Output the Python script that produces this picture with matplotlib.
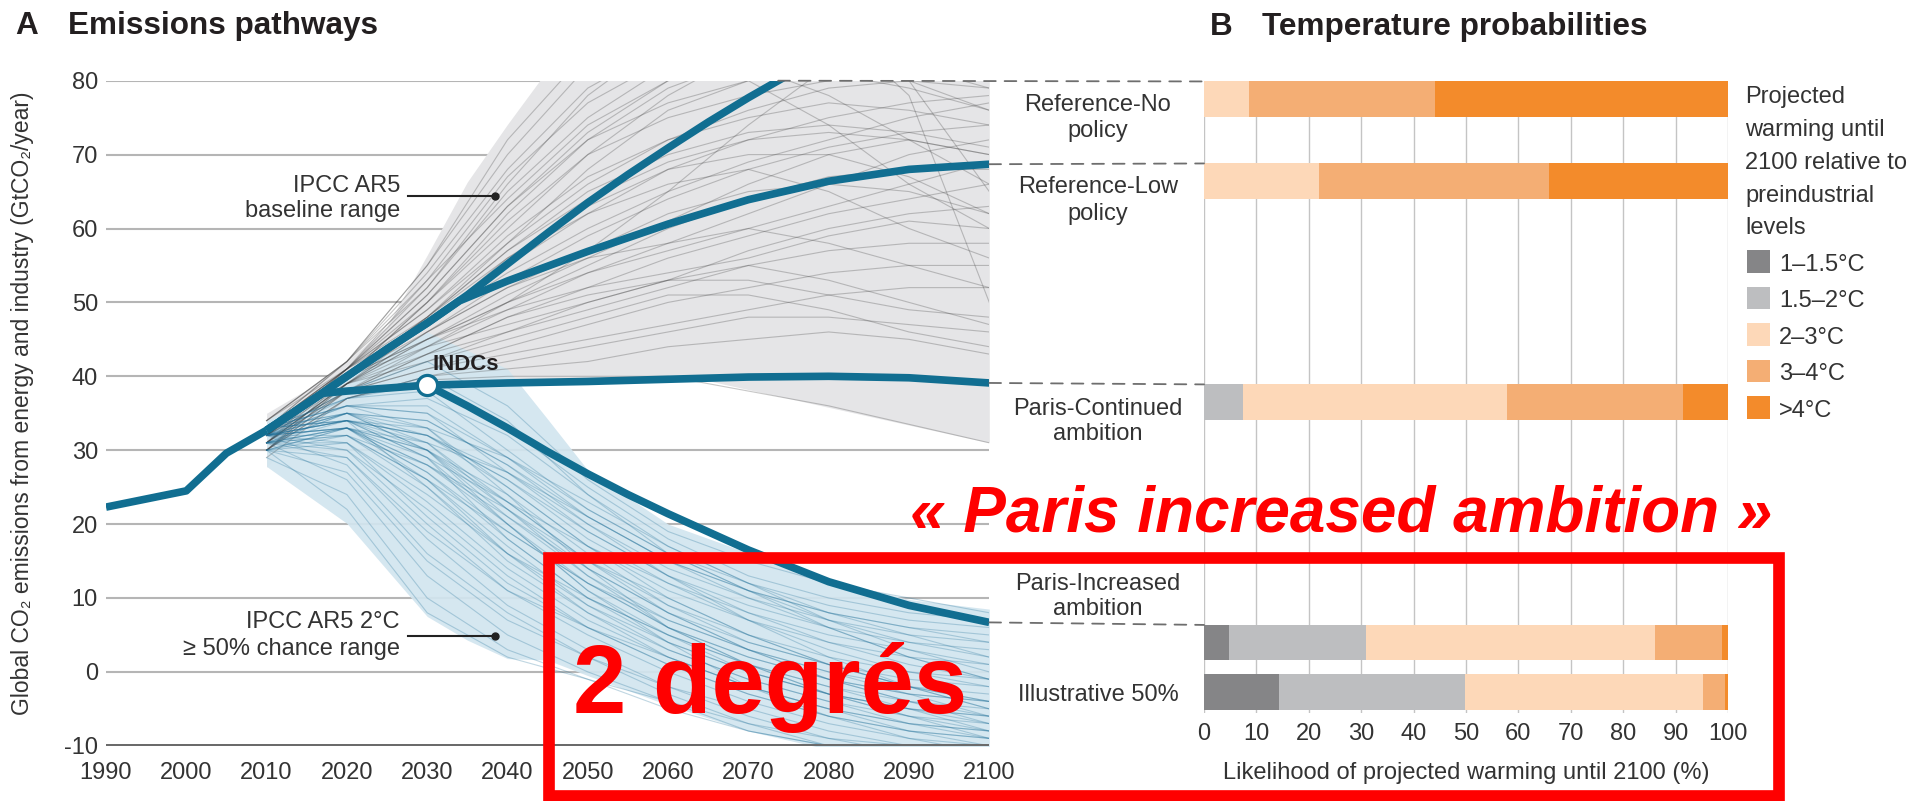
import numpy as np
import matplotlib.pyplot as plt
from matplotlib.patches import Rectangle, ConnectionPatch

plt.rcParams['font.family'] = ['Liberation Sans', 'DejaVu Sans']
plt.rcParams['axes.unicode_minus'] = False

# ---------------- data: emissions pathways (GtCO2/year) ----------------
hist_years = [1990, 1995, 2000, 2005, 2010]
hist_emis = [22.3, 23.4, 24.5, 29.6, 32.7]

ref_no_years = [2010, 2015, 2020, 2025, 2030, 2035, 2040, 2045, 2050, 2055, 2060, 2065, 2070, 2075]
ref_no_emis = [32.7, 36.3, 40.0, 43.7, 47.2, 51.0, 55.2, 59.4, 63.5, 67.3, 70.9, 74.4, 77.7, 80.8]

ref_low_years = [2010, 2015, 2020, 2025, 2030, 2034, 2040, 2050, 2060, 2070, 2080, 2090, 2100]
ref_low_emis = [32.7, 36.3, 40.0, 43.7, 47.2, 50.2, 52.9, 56.9, 60.6, 63.9, 66.4, 68.0, 68.7]

indc_years = [2010, 2015, 2017, 2020, 2025, 2030, 2040, 2050, 2060, 2070, 2080, 2090, 2100]
indc_emis = [32.7, 36.3, 37.7, 38.0, 38.4, 38.8, 39.1, 39.3, 39.6, 39.9, 40.0, 39.8, 39.1]

paris_inc_years = [2030, 2035, 2040, 2045, 2050, 2055, 2060, 2070, 2080, 2090, 2100]
paris_inc_emis = [38.8, 36.0, 33.0, 29.8, 26.8, 24.0, 21.4, 16.5, 12.2, 9.0, 6.7]

# IPCC AR5 baseline range envelope
gray_years = [2010, 2015, 2020, 2025, 2030, 2035, 2040, 2044, 2050, 2060, 2065, 2070, 2080, 2090, 2100]
gray_lower = [27.7, 33.0, 36.0, 37.5, 38.5, 38.8, 39.0, 39.1, 39.3, 39.6, 39.4, 38.2, 35.8, 33.4, 31.0]
gray_upper = [35.0, 38.2, 42.0, 46.8, 56.4, 66.3, 74.1, 80.0, 86.0, 86.0, 86.0, 86.0, 86.0, 86.0, 86.0]

# IPCC AR5 2°C (>= 50% chance) envelope
blue_years = [2010, 2020, 2030, 2035, 2040, 2045, 2050, 2060, 2070, 2080, 2090, 2100]
blue_lower = [27.8, 20.1, 7.5, 4.3, 1.8, 1.6, -0.5, -4.5, -8.0, -10.5, -11.0, -11.0]
blue_upper = [34.0, 40.0, 46.0, 43.5, 41.0, 34.2, 27.3, 20.0, 16.1, 12.5, 9.8, 8.5]

# individual scenario runs
run_years = [2010, 2020, 2030, 2040, 2050, 2060, 2070, 2080, 2090, 2100]
baseline_runs = [
    [33, 42, 55, 70, 82, 90, 95, 98, 100, 100],
    [32, 41, 52, 66, 78, 86, 90, 92, 93, 94],
    [31, 40, 50, 62, 72, 79, 83, 86, 84, 80],
    [33, 41, 49, 58, 66, 72, 76, 79, 80, 79],
    [32, 40, 47, 55, 62, 68, 72, 75, 77, 78],
    [30, 39, 46, 53, 59, 64, 68, 71, 73, 74],
    [33, 40, 45, 51, 56, 61, 66, 70, 72, 70],
    [31, 39, 44, 49, 54, 58, 62, 66, 70, 72],
    [32, 38, 43, 48, 52, 56, 59, 62, 64, 66],
    [30, 38, 42, 46, 50, 53, 57, 60, 62, 63],
    [33, 39, 43, 46, 49, 52, 55, 57, 58, 58],
    [31, 38, 41, 44, 47, 50, 52, 54, 55, 55],
    [32, 38, 41, 43, 45, 47, 49, 51, 52, 52],
    [29, 37, 40, 42, 44, 46, 48, 48, 47, 46],
    [30, 37, 40, 41, 42, 44, 45, 46, 45, 43],
    [34, 42, 53, 64, 74, 80, 82, 78, 72, 66],
    [33, 41, 51, 63, 73, 80, 86, 90, 80, 65],
    [32, 40, 48, 58, 68, 76, 80, 74, 66, 60],
    [31, 39, 47, 56, 63, 68, 70, 70, 67, 62],
    [33, 41, 50, 60, 70, 78, 84, 88, 78, 50],
    [32, 40, 46, 52, 56, 58, 60, 58, 55, 52],
    [30, 38, 43, 48, 51, 53, 53, 51, 49, 48],
    [34, 42, 55, 72, 84, 90, 92, 88, 80, 76],
    [31, 39, 45, 50, 55, 60, 64, 67, 68, 68],
    [33, 40, 48, 57, 65, 70, 73, 74, 73, 71],
    [30, 37, 39.5, 40, 40, 40, 38, 36, 33.5, 31],
    [33, 42, 54, 68, 79, 85, 88, 90, 91, 92],
    [32, 41, 53, 67, 77, 83, 86, 87, 86, 84],
    [34, 42, 52, 65, 75, 82, 85, 84, 82, 79],
    [31, 41, 51, 63, 72, 77, 80, 81, 79, 76],
    [33, 40, 50, 61, 70, 75, 78, 80, 81, 82],
    [32, 41, 49, 59, 67, 72, 75, 77, 76, 74],
    [30, 40, 48, 57, 64, 69, 72, 73, 72, 70],
    [33, 41, 47, 54, 60, 65, 69, 72, 75, 77],
    [31, 39, 46, 52, 57, 62, 65, 66, 65, 62],
    [32, 40, 45, 50, 54, 57, 60, 63, 66, 69],
    [34, 41, 48, 56, 62, 66, 68, 65, 60, 56],
    [31, 38, 44, 50, 57, 65, 74, 82, 88, 90],
    [30, 39, 45, 49, 52, 54, 56, 59, 61, 60],
    [33, 40, 44, 47, 50, 53, 55, 53, 50, 47],
    [32, 39, 42, 45, 48, 51, 51, 49, 46, 44],
]
two_deg_runs = [
    [32, 38, 42, 36, 26, 19, 15, 12, 10, 8],
    [33, 37, 38, 30, 22, 16, 12, 9, 7, 6],
    [32, 36, 35, 27, 19, 13, 9, 6, 4, 3],
    [31, 35, 33, 25, 17, 11, 7, 4, 2, 1],
    [32, 34, 31, 23, 15, 9, 5, 2, 0, -1],
    [33, 35, 30, 21, 13, 7, 3, 0, -2, -3],
    [31, 33, 28, 20, 12, 6, 2, -1, -3, -4],
    [32, 34, 29, 18, 10, 4, 0, -3, -5, -6],
    [30, 32, 26, 17, 9, 3, -1, -4, -6, -7],
    [32, 33, 27, 19, 12, 7, 3, 0, -3, -6],
    [33, 34, 25, 15, 8, 3, -1, -4, -7, -9],
    [31, 31, 23, 14, 7, 2, -2, -5, -8, -10],
    [32, 30, 20, 11, 5, 0, -4, -7, -9, -11],
    [30, 29, 18, 9, 3, -2, -6, -9, -11, -12],
    [32, 28, 16, 8, 2, -3, -7, -10, -11, -11],
    [31, 26, 13, 5, 0, -4, -8, -10, -11, -12],
    [29, 24, 10, 3, -1, -5, -8, -10, -11, -11],
    [30, 22, 8, 2, -1, -4, -7, -9, -10, -10],
    [33, 36, 37, 32, 24, 17, 12, 8, 5, 2],
    [32, 35, 34, 28, 20, 14, 10, 7, 5, 4],
    [31, 34, 32, 26, 18, 12, 7, 3, 0, -2],
    [32, 33, 30, 24, 16, 9, 4, 1, -1, -2],
    [33, 36, 33, 24, 14, 6, 1, -3, -6, -8],
    [31, 32, 28, 22, 15, 10, 5, 1, -2, -4],
    [32, 35, 30, 20, 11, 4, -2, -6, -8, -9],
    [30, 33, 29, 23, 17, 12, 8, 5, 3, 1],
    [32, 34, 32, 27, 21, 15, 10, 6, 2, -1],
    [33, 37, 40, 34, 24, 16, 11, 7, 4, 2],
    [31, 30, 22, 13, 6, 1, -3, -6, -8, -9],
    [32, 33, 26, 16, 8, 2, -2, -5, -7, -8],
    [32, 37, 39, 33, 25, 18, 13, 10, 8, 7],
    [33, 36, 36, 29, 21, 15, 11, 8, 6, 5],
    [31, 35, 34, 28, 21, 15, 11, 8, 6, 4],
    [32, 34, 32, 26, 19, 13, 8, 4, 1, -1],
    [30, 33, 30, 22, 14, 8, 4, 1, -2, -4],
    [32, 35, 31, 22, 13, 6, 2, -1, -4, -6],
    [33, 34, 29, 20, 11, 5, 0, -3, -5, -7],
    [31, 33, 27, 18, 10, 5, 1, -2, -5, -8],
    [32, 32, 25, 16, 9, 4, 0, -3, -5, -6],
    [30, 31, 24, 16, 10, 5, 1, -2, -4, -5],
    [32, 33, 28, 21, 14, 8, 3, -1, -4, -7],
    [31, 32, 26, 19, 12, 6, 1, -3, -6, -9],
    [33, 35, 32, 25, 17, 10, 5, 1, -2, -5],
    [32, 31, 21, 12, 6, 1, -3, -6, -9, -10],
    [31, 29, 19, 11, 6, 2, -2, -5, -7, -8],
    [30, 27, 15, 7, 2, -2, -5, -8, -10, -11],
    [32, 36, 35, 29, 22, 16, 11, 6, 2, -1],
    [33, 34, 30, 23, 15, 8, 3, -1, -3, -4],
    [31, 33, 31, 27, 20, 13, 7, 2, -2, -5],
    [32, 34, 33, 29, 23, 17, 12, 7, 3, 0],
]

# ---------------- data: temperature probabilities (%) ----------------
scenario_names = ['Reference-No\npolicy', 'Reference-Low\npolicy', 'Paris-Continued\nambition',
                  'Paris-Increased\nambition', 'Illustrative 50%']
warming_bins = ['1–1.5°C', '1.5–2°C', '2–3°C', '3–4°C', '>4°C']
warming_shares = [
    [0, 0, 8.6, 35.4, 56.0],
    [0, 0, 21.9, 44.0, 34.1],
    [0, 7.4, 50.4, 33.7, 8.5],
    [4.8, 26.2, 55.1, 12.7, 1.2],
    [14.3, 35.6, 45.4, 4.2, 0.5],
]
bin_colors = ['#858587', '#bdbec0', '#fdd8b8', '#f4ae74', '#f38b2b']

# ---------------- layout (pixels of the 1915x801 picture) ----------------
W, H = 1915, 801


def fx(x):
    return x / W


def fy(y):
    return 1 - y / H


TEAL = '#116e91'
TXT = '#333333'
FS = 17

bar_center = [77.5, 66.4, 36.5, 3.95, -2.7]   # in emission units (shared vertical scale)
bar_h = 4.8
label_base = [[111, 136.7], [193.3, 220], [415, 440], [590, 615], [701]]

fig = plt.figure(figsize=(W / 100, H / 100), dpi=100)
axA = fig.add_axes([fx(106), fy(745.8), (989.3 - 106) / W, (745.8 - 80.7) / H])
axB = fig.add_axes([fx(1204), fy(712.5), (1728 - 1204) / W, (712.5 - 80.7) / H])

# ---------------- panel A ----------------
axA.set_xlim(1990, 2100)
axA.set_ylim(-10, 80)
for s in axA.spines.values():
    s.set_visible(False)
axA.set_xticks(range(1990, 2101, 10))
axA.set_yticks([-10] + list(range(0, 81, 10)))
axA.grid(axis='y', color='#b5b5b5', lw=1.5, zorder=0)
axA.set_axisbelow(True)
axA.tick_params(axis='y', length=0, pad=5.8, labelsize=FS, labelcolor=TXT)
axA.tick_params(axis='x', length=0, pad=12, labelsize=FS, labelcolor=TXT)
axA.axhline(-10, color='#6b6b6b', lw=3.6, zorder=8)

axA.fill_between(gray_years, gray_lower, gray_upper, color='#e5e5e7', lw=0, zorder=1)
axA.fill_between(blue_years, blue_lower, blue_upper, color='#d2e5ef', alpha=0.92, lw=0, zorder=2)
for run in baseline_runs:
    axA.plot(run_years, run, color='#3a3a3a', lw=0.8, alpha=0.28, zorder=3)
for run in two_deg_runs:
    axA.plot(run_years, run, color='#1f6f98', lw=0.8, alpha=0.28, zorder=4)

for yrs, vals in [(hist_years, hist_emis), (ref_no_years, ref_no_emis), (ref_low_years, ref_low_emis),
                  (indc_years, indc_emis), (paris_inc_years, paris_inc_emis)]:
    axA.plot(yrs, vals, color=TEAL, lw=5.5, solid_joinstyle='round', solid_capstyle='butt', zorder=5)
axA.plot([indc_years[5]], [indc_emis[5]], marker='o', ms=14.5, mfc='white', mec=TEAL, mew=2.3, zorder=6)
axA.text(2030.7, 40.85, 'INDCs', fontsize=16, fontweight='bold', color='#231f20', va='baseline', zorder=7)

axA.text(2026.6, 65.0, 'IPCC AR5', fontsize=FS, color=TXT, ha='right', va='baseline')
axA.text(2026.6, 61.6, 'baseline range', fontsize=FS, color=TXT, ha='right', va='baseline')
axA.plot([2027.6, 2038.4], [64.4, 64.4], color='#222222', lw=1.5, zorder=7)
axA.plot([2038.4], [64.4], marker='o', ms=5, color='#222222', zorder=7)
axA.text(2026.6, 5.9, 'IPCC AR5 2°C', fontsize=FS, color=TXT, ha='right', va='baseline')
axA.text(2026.6, 2.28, '≥ 50% chance range', fontsize=FS, color=TXT, ha='right', va='baseline')
axA.plot([2027.6, 2038.4], [4.9, 4.9], color='#222222', lw=1.5, zorder=7)
axA.plot([2038.4], [4.9], marker='o', ms=5, color='#222222', zorder=7)

# ---------------- panel B ----------------
axB.set_xlim(0, 100)
axB.set_ylim(-5.5, 80)
for s in axB.spines.values():
    s.set_visible(False)
axB.set_yticks([])
axB.set_xticks(range(0, 101, 10))
axB.grid(axis='x', color='#c4c4c4', lw=1.0, zorder=0)
axB.set_axisbelow(True)
axB.tick_params(axis='x', length=0, pad=7.5, labelsize=FS, labelcolor=TXT)
axB.set_xlabel('Likelihood of projected warming until 2100 (%)', fontsize=FS, color=TXT, labelpad=12)

shares = np.array(warming_shares)
left = np.zeros(len(scenario_names))
for j, name in enumerate(warming_bins):
    axB.barh(bar_center, shares[:, j], left=left, height=bar_h, color=bin_colors[j], lw=0, zorder=2)
    left += shares[:, j]

for name, bases in zip(scenario_names, label_base):
    for line, b in zip(name.split('\n'), bases):
        fig.text(fx(1098), fy(b), line, fontsize=FS, color=TXT, ha='center', va='baseline')

# dashed connectors from pathway end points to bars
ends = [(np.interp(80, ref_no_emis, ref_no_years), 80),
        (ref_low_years[-1], ref_low_emis[-1]),
        (indc_years[-1], indc_emis[-1]),
        (paris_inc_years[-1], paris_inc_emis[-1])]
for (xa, ya), c in zip(ends, bar_center[:4]):
    con = ConnectionPatch(xyA=(xa, ya), coordsA='data', axesA=axA,
                          xyB=(0, c + bar_h / 2), coordsB='data', axesB=axB,
                          color='#6e6e6e', lw=1.3, linestyle=(0, (6.5, 4.9)), zorder=9)
    fig.add_artist(con)

# legend
leg_title = ['Projected', 'warming until', '2100 relative to', 'preindustrial', 'levels']
for i, line in enumerate(leg_title):
    fig.text(fx(1745), fy(103.3 + 32.8 * i), line, fontsize=FS, color=TXT, va='baseline')
for i, (name, col) in enumerate(zip(warming_bins, bin_colors)):
    bottom = 272.7 + 36.6 * i
    fig.add_artist(Rectangle((fx(1746.7), fy(bottom)), 23.3 / W, 22.7 / H, transform=fig.transFigure,
                             facecolor=col, edgecolor='none'))
    fig.text(fx(1779.3), fy(bottom - 2), name, fontsize=FS, color=TXT, va='baseline')

# ---------------- titles / labels ----------------
fig.text(fx(15), fy(34.3), 'A', fontsize=22.7, fontweight='bold', color='#231f20', va='baseline')
fig.text(fx(68.3), fy(34.3), 'Emissions pathways', fontsize=22.7, fontweight='bold', color='#231f20', va='baseline')
fig.text(fx(1210), fy(35), 'B', fontsize=22.7, fontweight='bold', color='#231f20', va='baseline')
fig.text(fx(1262.5), fy(35), 'Temperature probabilities', fontsize=22.7, fontweight='bold', color='#231f20',
         va='baseline')
fig.text(fx(23), fy(403), 'Global CO₂ emissions from energy and industry (GtCO₂/year)', rotation=90,
         fontsize=16.5, color=TXT, ha='center', va='center')

# ---------------- red overlay ----------------
fig.add_artist(Rectangle((fx(549.3), fy(795.5)), (1779.5 - 549.3) / W, (795.5 - 557.5) / H,
                         transform=fig.transFigure, fill=False, edgecolor='#ff0000', lw=8.4, zorder=20))
fig.text(fx(910), fy(531.7), '« Paris increased ambition »', fontsize=46, fontweight='bold', fontstyle='italic',
         color='#ff0000', va='baseline', zorder=21)
fig.text(fx(573), fy(713.3), '2 degrés', fontsize=69, fontweight='bold', color='#ff0000', va='baseline', zorder=21)

fig.savefig('out.png', dpi=100)
